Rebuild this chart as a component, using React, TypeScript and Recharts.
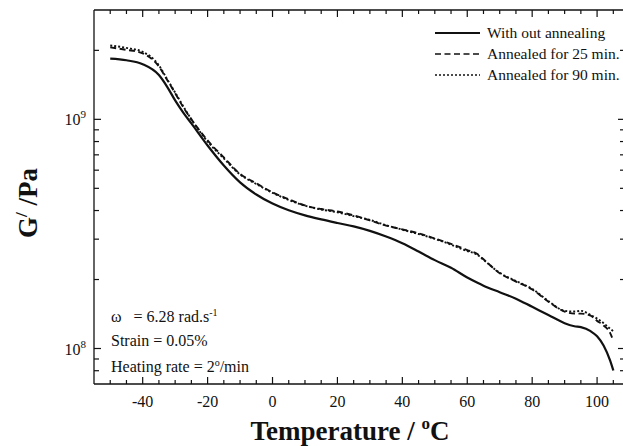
import { Legend, Line, LineChart, XAxis, YAxis } from "recharts";

const temps = [
  -50, -45, -40, -35, -32.5, -30, -27.5, -25, -20, -15, -10, -5, 0, 5, 10, 15,
  20, 25, 30, 35, 40, 45, 50, 55, 60, 63, 65, 70, 75, 80, 85, 90, 93, 95, 98,
  100, 102, 104, 105,
];

// G' without annealing
const noAnneal = [
  1.84e9, 1.81e9, 1.74e9, 1.56e9, 1.39e9, 1.21e9, 1.07e9, 9.6e8, 7.69e8, 6.29e8,
  5.31e8, 4.7e8, 4.29e8, 4.01e8, 3.81e8, 3.66e8, 3.53e8, 3.41e8, 3.26e8, 3.08e8,
  2.88e8, 2.65e8, 2.43e8, 2.25e8, 2.04e8, 1.94e8, 1.88e8, 1.76e8, 1.65e8,
  1.52e8, 1.4e8, 1.29e8, 1.25e8, 1.24e8, 1.19e8, 1.13e8, 1.03e8, 8.87e7, 8.02e7,
];

// annealed 25 min
const anneal25 = [
  2.06e9, 2.01e9, 1.94e9, 1.7e9, 1.49e9, 1.3e9, 1.13e9, 1.0e9, 8.09e8, 6.82e8,
  5.78e8, 5.26e8, 4.8e8, 4.48e8, 4.21e8, 4.06e8, 3.96e8, 3.81e8, 3.62e8, 3.44e8,
  3.31e8, 3.18e8, 3.02e8, 2.86e8, 2.69e8, 2.59e8, 2.45e8, 2.13e8, 1.96e8,
  1.81e8, 1.6e8, 1.45e8, 1.42e8, 1.42e8, 1.39e8, 1.32e8, 1.26e8, 1.17e8, 1.08e8,
];

// annealed 90 min
const anneal90 = [
  2.1e9, 2.05e9, 1.97e9, 1.72e9, 1.5e9, 1.31e9, 1.14e9, 1.0e9, 8.0e8, 6.75e8,
  5.75e8, 5.22e8, 4.78e8, 4.45e8, 4.2e8, 4.04e8, 3.93e8, 3.78e8, 3.64e8, 3.45e8,
  3.3e8, 3.16e8, 3.01e8, 2.84e8, 2.66e8, 2.57e8, 2.44e8, 2.14e8, 1.97e8,
  1.82e8, 1.61e8, 1.46e8, 1.45e8, 1.46e8, 1.4e8, 1.35e8, 1.29e8, 1.22e8, 1.19e8,
];

const seriesNames = [
  "With out annealing",
  "Annealed for 25 min.",
  "Annealed for 90 min.",
];

const xMajor = [-40, -20, 0, 20, 40, 60, 80, 100];
const xTicks = [
  -50, -45, -40, -35, -30, -25, -20, -15, -10, -5, 0, 5, 10, 15, 20, 25, 30, 35,
  40, 45, 50, 55, 60, 65, 70, 75, 80, 85, 90, 95, 100, 105,
];
const yMajor = [1e8, 1e9];
const yTicks = [
  8e7, 9e7, 1e8, 2e8, 3e8, 4e8, 5e8, 6e8, 7e8, 8e8, 9e8, 1e9, 2e9,
];

const FONT = "'Liberation Serif', 'Times New Roman', serif";
const INK = "#111";

const data = temps.map((t, i) => ({
  t,
  a: noAnneal[i],
  b: anneal25[i],
  c: anneal90[i],
}));

const lineStyles = [
  { key: "a", dash: undefined },
  { key: "b", dash: "6 3.5" },
  { key: "c", dash: "2 2" },
];

// Recharts skips axes whose box is 0 px, so each axis gets a 1 px box.
function XTick({ x, y, payload, side }: any) {
  const major = xMajor.includes(payload.value);
  const len = major ? 7 : 4;
  const dir = side === "top" ? 1 : -1;
  return (
    <g>
      <line x1={x} y1={y} x2={x} y2={y + dir * len} stroke={INK} strokeWidth={1.2} />
      {major && side !== "top" ? (
        <text x={x} y={y + 23} textAnchor="middle" fontFamily={FONT} fontSize={16} fill={INK}>
          {payload.value}
        </text>
      ) : null}
    </g>
  );
}

function YTick({ x, y, payload, side }: any) {
  const major = yMajor.includes(payload.value);
  const len = major ? 7 : 5;
  const dir = side === "right" ? -1 : 1;
  return (
    <g>
      <line x1={x} y1={y} x2={x + dir * len} y2={y} stroke={INK} strokeWidth={1.2} />
      {major && side !== "right" ? (
        <text x={x - 8} y={y + 6} textAnchor="end" fontFamily={FONT} fontSize={16} fill={INK}>
          10
          <tspan dy={-7} fontSize={11}>
            {Math.round(Math.log10(payload.value))}
          </tspan>
        </text>
      ) : null}
    </g>
  );
}

function LegendBox() {
  return (
    <svg width={193} height={70}>
      {seriesNames.map((name, i) => {
        const yy = 13 + i * 21;
        return (
          <g key={name}>
            <line
              x1={5}
              x2={50}
              y1={yy}
              y2={yy}
              stroke={INK}
              strokeWidth={i === 0 ? 2 : 1.6}
              strokeDasharray={lineStyles[i].dash}
            />
            <text x={57} y={yy + 5} fontFamily={FONT} fontSize={15.5} fill={INK}>
              {name}
            </text>
          </g>
        );
      })}
    </svg>
  );
}

const axisCommon = {
  interval: 0 as const,
  tickSize: 0,
  tickMargin: 0,
  tickLine: false,
  axisLine: { stroke: INK, strokeWidth: 1.3 },
  allowDataOverflow: true,
};

const NBSP = "\u00a0";

export default function App() {
  return (
    <div style={{ position: "absolute", left: 0, top: 0, width: 623, height: 446, background: "#fff" }}>
      <LineChart
        width={623}
        height={446}
        data={data}
        margin={{ top: 9, right: -3, bottom: 61, left: 93 }}
      >
        <XAxis
          {...axisCommon}
          dataKey="t"
          type="number"
          domain={[-55, 108.6]}
          ticks={xTicks}
          height={1}
          tick={<XTick side="bottom" />}
        />
        <XAxis
          {...axisCommon}
          xAxisId="top"
          orientation="top"
          dataKey="t"
          type="number"
          domain={[-55, 108.6]}
          ticks={xTicks}
          height={1}
          tick={<XTick side="top" />}
        />
        <YAxis
          {...axisCommon}
          type="number"
          scale="log"
          domain={[7e7, 3e9]}
          ticks={yTicks}
          width={1}
          tick={<YTick side="left" />}
        />
        <YAxis
          {...axisCommon}
          yAxisId="right"
          orientation="right"
          type="number"
          scale="log"
          domain={[7e7, 3e9]}
          ticks={yTicks}
          width={1}
          tick={<YTick side="right" />}
        />
        <Legend
          layout="horizontal"
          verticalAlign="middle"
          align="center"
          wrapperStyle={{ position: "absolute", left: 430, top: 20, width: 193, height: 70 }}
          content={() => <LegendBox />}
        />
        {lineStyles.map((s, i) => (
          <Line
            key={s.key}
            dataKey={s.key}
            name={seriesNames[i]}
            type="monotone"
            stroke={INK}
            strokeWidth={i === 0 ? 2.2 : 1.9}
            strokeDasharray={s.dash}
            dot={false}
            activeDot={false}
            isAnimationActive={false}
          />
        ))}
      </LineChart>
      <svg
        width={623}
        height={446}
        style={{ position: "absolute", left: 0, top: 0, pointerEvents: "none" }}
      >
        <text
          transform="translate(37,203) rotate(-90)"
          textAnchor="middle"
          fontFamily={FONT}
          fontWeight="bold"
          fontSize={27}
          fill={INK}
        >
          G
          <tspan dy={-10} fontSize={17}>/</tspan>
          <tspan dy={10}>{NBSP}/Pa</tspan>
        </text>
        <text
          x={350}
          y={440}
          textAnchor="middle"
          fontFamily={FONT}
          fontWeight="bold"
          fontSize={27}
          fill={INK}
        >
          {"Temperature / "}
          <tspan dy={-11} fontSize={17}>o</tspan>
          <tspan dy={11}>C</tspan>
        </text>
        <g fontFamily={FONT} fontSize={16} fill={INK}>
          <text x={111} y={322}>
            {`\u03c9${NBSP}${NBSP}${NBSP}= 6.28 rad.s`}
            <tspan dy={-6} fontSize={10}>-1</tspan>
          </text>
          <text x={111} y={346}>Strain = 0.05%</text>
          <text x={111} y={372}>
            {"Heating rate = 2"}
            <tspan dy={-6} fontSize={10}>o</tspan>
            <tspan dy={6}>/min</tspan>
          </text>
        </g>
      </svg>
    </div>
  );
}
